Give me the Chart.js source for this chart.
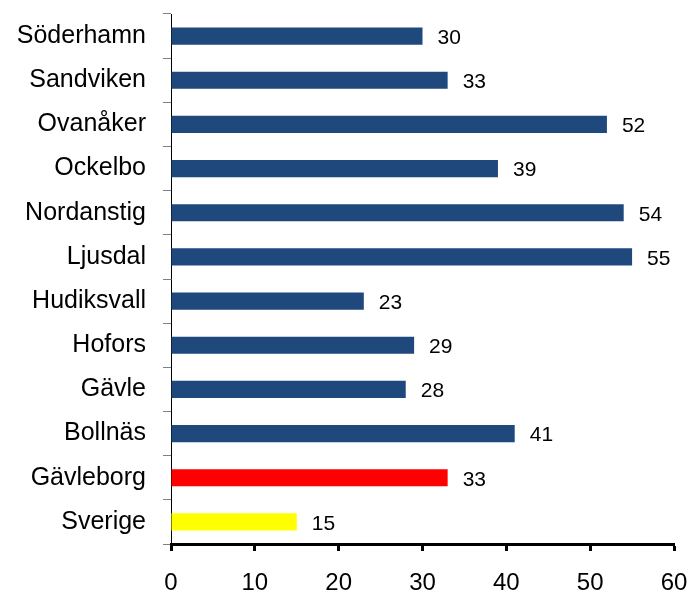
<!DOCTYPE html>
<html><head><meta charset="utf-8">
<script src="https://cdn.jsdelivr.net/npm/chart.js@4"></script>
<style>html,body{margin:0;padding:0;background:#fff}#w{width:692px;height:594px}</style>
</head><body><div id="w"><canvas id="c" width="692" height="594"></canvas></div>
<script>
const categories = ["Söderhamn","Sandviken","Ovanåker","Ockelbo","Nordanstig","Ljusdal","Hudiksvall","Hofors","Gävle","Bollnäs","Gävleborg","Sverige"];
const values = [30,33,52,39,54,55,23,29,28,41,33,15];
const barColors = ["#1F497D","#1F497D","#1F497D","#1F497D","#1F497D","#1F497D","#1F497D","#1F497D","#1F497D","#1F497D","#FF0000","#FFFF00"];
const xTicks = [0,10,20,30,40,50,60];

const FONT = "'Liberation Sans', Arial, sans-serif";
const valueLabels = {
  id:'valueLabels',
  afterDatasetsDraw(chart){
    const ctx = chart.ctx;
    const meta = chart.getDatasetMeta(0);
    ctx.save();
    ctx.font = "21px " + FONT;
    ctx.fillStyle = "#000";
    ctx.textBaseline = "middle";
    ctx.textAlign = "left";
    meta.data.forEach((el,i)=>{
      ctx.fillText(String(values[i]), el.x + 15, el.y + 2);
    });
    ctx.restore();
  }
};

new Chart(document.getElementById('c'), {
  type:'bar',
  data:{labels:categories, datasets:[{data:values, backgroundColor:barColors, borderWidth:0, categoryPercentage:1, barPercentage:0.39}]},
  options:{
    indexAxis:'y', responsive:false, animation:false,
    layout:{padding:{top:14,right:18,left:0,bottom:0}},
    plugins:{legend:{display:false}, tooltip:{enabled:false}},
    scales:{
      x:{min:0,max:60,
        afterBuildTicks(s){ s.ticks = xTicks.map(v=>({value:v})); },
        afterFit(s){ s.height = 50; s.paddingLeft = 0; s.paddingRight = 0; },
        grid:{drawOnChartArea:false, tickLength:7, tickColor:'#000', tickWidth:3},
        border:{color:'#000', width:3},
        ticks:{color:'#000', font:{family:FONT,size:24}, padding:18, maxRotation:0}
      },
      y:{
        afterFit(s){ s.width = 171; s.paddingTop = 0; s.paddingBottom = 0; },
        grid:{drawOnChartArea:false, tickLength:8, tickColor:'#808080', tickWidth:1, offset:true},
        border:{color:'#000', width:1},
        ticks:{color:'#000', font:{family:FONT,size:25}, padding:17}
      }
    }
  },
  plugins:[valueLabels]
});
</script></body></html>
